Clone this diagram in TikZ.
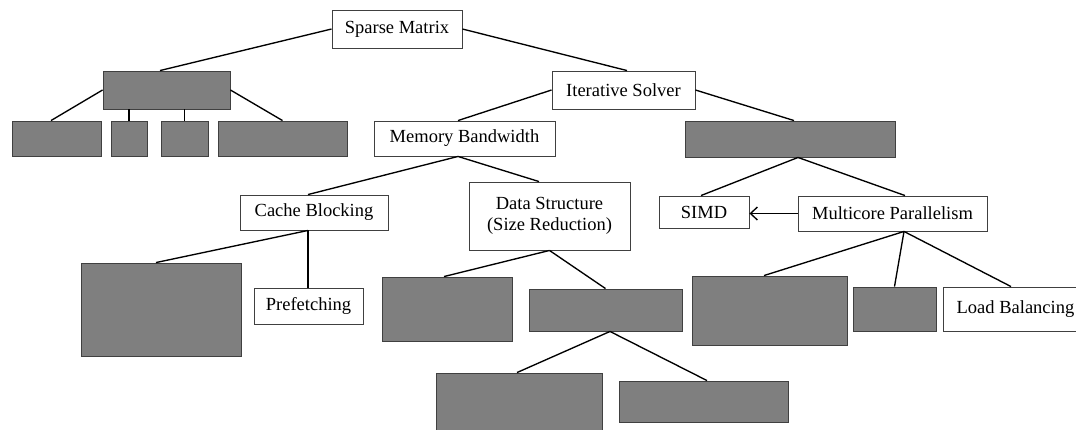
\documentclass[tikz,border=0pt]{standalone}
\usepackage{fontspec}
\setmainfont{Liberation Serif}
\usetikzlibrary{arrows.meta}
\definecolor{boxgray}{HTML}{7F7F7F}
\definecolor{edgegray}{HTML}{404040}
\tikzset{
  label box/.style={draw=edgegray, line width=0.9pt, fill=white, inner sep=0pt,
    font=\fontsize{18.5}{21.5}\selectfont, align=center},
  blank box/.style={draw=edgegray, line width=0.9pt, fill=boxgray, inner sep=0pt},
  link/.style={draw=black, line width=1.35pt},
}
\begin{document}
\begin{tikzpicture}[x=1pt, y=-1pt]
\useasboundingbox (0,0) rectangle (1076,429);

% top level
\node[label box, minimum width=130pt, minimum height=38pt] (sm) at (397,29) {Sparse Matrix};

% left branch
\node[blank box, minimum width=127pt, minimum height=38pt] (g1) at (166.5,90) {};
\node[blank box, minimum width=89pt,  minimum height=35pt] (b1) at (56.5,138.5) {};
\node[blank box, minimum width=36pt,  minimum height=35pt] (b2) at (129,138.5) {};
\node[blank box, minimum width=47pt,  minimum height=35pt] (b3) at (184.5,138.5) {};
\node[blank box, minimum width=129pt, minimum height=35pt] (b4) at (282.5,138.5) {};

% solver branch
\node[label box, minimum width=143pt, minimum height=38pt] (is) at (623.5,90) {Iterative Solver};
\node[label box, minimum width=181pt, minimum height=35pt] (mb) at (464.5,138.5) {Memory Bandwidth};
\node[blank box, minimum width=210pt, minimum height=36pt] (g2) at (790,139) {};

% memory bandwidth children
\node[label box, minimum width=148pt, minimum height=35pt] (cb) at (314,212.5) {Cache Blocking};
\node[label box, minimum width=161pt, minimum height=68pt] (ds) at (549.5,216) {Data Structure\\(Size Reduction)};
\node[blank box, minimum width=160pt, minimum height=93pt] (g3) at (161,309.5) {};
\node[label box, minimum width=109pt, minimum height=36pt] (pf) at (308.5,306) {Prefetching};
\node[blank box, minimum width=130pt, minimum height=64pt] (g4) at (447,309) {};
\node[blank box, minimum width=153pt, minimum height=42pt] (g5) at (605.5,310) {};
\node[blank box, minimum width=166pt, minimum height=67pt] (g6) at (519,406.5) {};
\node[blank box, minimum width=169pt, minimum height=41pt] (g7) at (703.5,401.5) {};

% parallelism branch
\node[label box, minimum width=90pt,  minimum height=32pt] (simd) at (704,212) {SIMD};
\node[label box, minimum width=189pt, minimum height=35pt] (mc) at (892.5,213.5) {Multicore Parallelism};
\node[blank box, minimum width=155pt, minimum height=69pt] (g8) at (769.5,310.5) {};
\node[blank box, minimum width=83pt,  minimum height=44pt] (g9) at (894.5,309) {};
\node[label box, minimum width=145pt, minimum height=44pt] (lb) at (1015.5,309) {Load Balancing};

% connectors
\path[link] (sm.west) -- ([xshift=-6.5pt]g1.north);
\path[link] (sm.east) -- ([xshift=3.5pt]is.north);

\path[link] (g1.west) -- ([xshift=-5.5pt]b1.north);
\path[link] (b2.north |- g1.south) -- (b2.north);
\path[link] (b3.north |- g1.south) -- (b3.north);
\path[link] (g1.east) -- (b4.north);

\path[link] (is.west) -- ([xshift=-6.5pt]mb.north);
\path[link] (is.east) -- ([xshift=4pt]g2.north);

\path[link] ([xshift=-6.5pt]mb.south) -- ([xshift=-6pt]cb.north);
\path[link] ([xshift=-6.5pt]mb.south) -- ([xshift=-10.5pt]ds.north);

\path[link] ([xshift=8pt]g2.south) -- ([xshift=-3pt]simd.north);
\path[link] ([xshift=8pt]g2.south) -- ([xshift=12.5pt]mc.north);
\draw[link, -{Straight Barb[length=7pt, width=13pt]}] (mc.west) -- (simd.east |- mc.west);

\coordinate (cbfoot) at ([xshift=-6pt]cb.south);
\path[link] (cbfoot) -- ([xshift=-5pt]g3.north);
\path[link] (cbfoot) -- (cbfoot |- pf.north);

\path[link] (ds.south) -- ([xshift=-3pt]g4.north);
\path[link] (ds.south) -- (g5.north);
\path[link] ([xshift=4.5pt]g5.south) -- ([xshift=-2pt]g6.north);
\path[link] ([xshift=4.5pt]g5.south) -- ([xshift=3.5pt]g7.north);

\path[link] ([xshift=11.5pt]mc.south) -- ([xshift=-5.5pt]g8.north);
\path[link] ([xshift=11.5pt]mc.south) -- (g9.north);
\path[link] ([xshift=11.5pt]mc.south) -- ([xshift=-4.5pt]lb.north);
\end{tikzpicture}
\end{document}
